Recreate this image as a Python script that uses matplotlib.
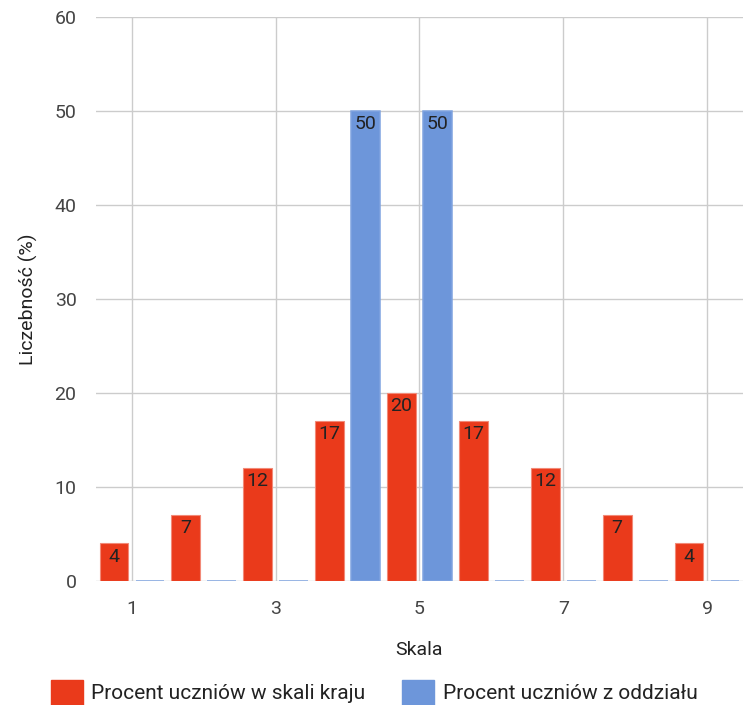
import numpy as np
import matplotlib.pyplot as plt
from matplotlib.patches import Patch

plt.rcParams["font.family"] = ["Roboto", "DejaVu Sans"]

# data
categories = [1, 2, 3, 4, 5, 6, 7, 8, 9]
national = [4, 7, 12, 17, 20, 17, 12, 7, 4]
school_class = [0, 0, 0, 50, 50, 0, 0, 0, 0]
series_names = ["Procent uczniów w skali kraju", "Procent uczniów z oddziału"]

red = "#ea3a1b"
blue = "#6d96da"
text_color = "#444444"
grid_color = "#cccccc"
fs = 14

fig = plt.figure(figsize=(7.43, 7.05), dpi=100)
ax = fig.add_axes([0.1292, 0.176, 0.8708, 0.7995])

x = np.array(categories, dtype=float)
width = 0.4
offset = 0.25

bars_red = ax.bar(x - offset, national, width, color=red,
                  edgecolor="#f28a78", linewidth=0.8, zorder=3)
bars_blue = ax.bar(x + offset, school_class, width, color=blue,
                   edgecolor="#7fa3e0", linewidth=1.1, zorder=3)

# value labels inside the top of each bar
for bars, vals in [(bars_red, national), (bars_blue, school_class)]:
    for b, v in zip(bars, vals):
        if v == 0:
            continue
        ax.annotate(f"{v}", (b.get_x() + b.get_width() / 2, v),
                    xytext=(0, -3), textcoords="offset points",
                    ha="center", va="top", fontsize=fs, color="#222222",
                    zorder=4)

ax.set_xlim(0.5, 9.5)
ax.set_ylim(0, 60)
ax.set_xticks([1, 3, 5, 7, 9])
ax.set_yticks(range(0, 61, 10))
ax.tick_params(axis="both", length=0, labelsize=fs, colors=text_color)
ax.tick_params(axis="x", pad=14)
ax.tick_params(axis="y", pad=14)
ax.grid(True, color=grid_color, linewidth=1, zorder=0)
ax.set_axisbelow(True)
for s in ax.spines.values():
    s.set_visible(False)

ax.set_xlabel("Skala", fontsize=fs, color="#222222", labelpad=16)
ax.set_ylabel("Liczebność (%)", fontsize=fs, color="#222222", labelpad=12)

handles = [Patch(facecolor=red, edgecolor=red), Patch(facecolor=blue, edgecolor=blue)]
fig.legend(handles, series_names, loc="lower left", bbox_to_anchor=(0.043, -0.027),
           ncol=2, frameon=False, fontsize=15, handlelength=1.55,
           handleheight=1.5, handletextpad=0.4, columnspacing=1.75,
           labelcolor="#222222")

fig.savefig("out.png", dpi=100)
